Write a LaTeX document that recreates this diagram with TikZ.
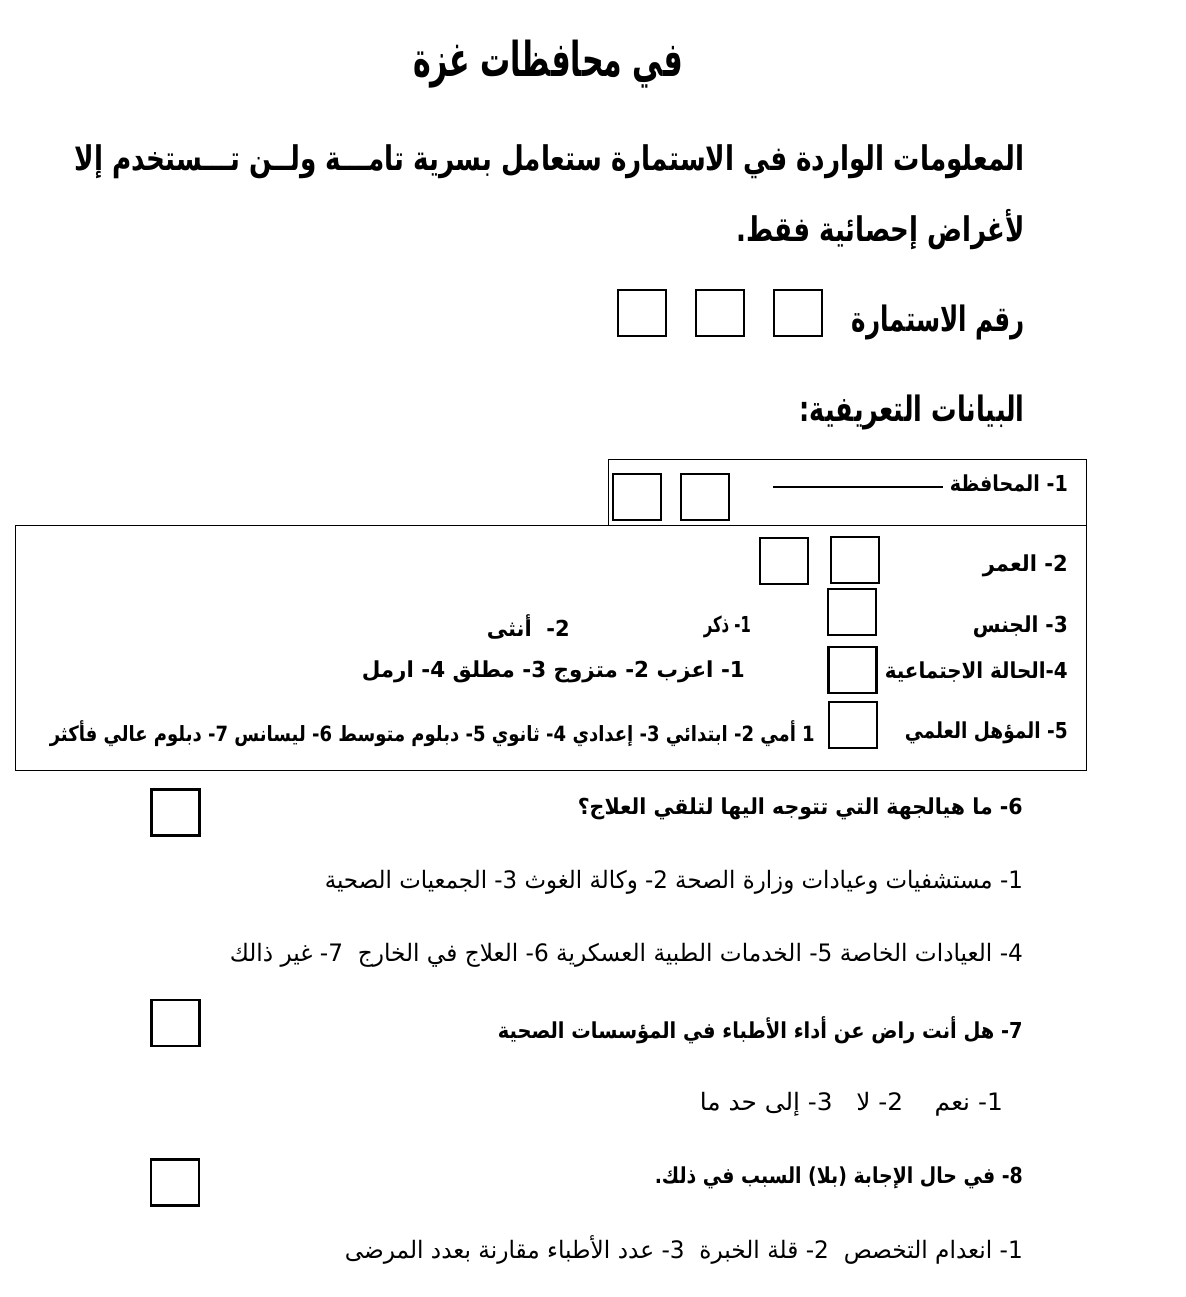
\documentclass[tikz,border=0pt]{standalone}
\usepackage{fontspec}
\usepackage{graphicx}
\TeXXeTstate=1
\newfontfamily\arb[Script=Arabic]{DejaVu Sans}
\newcommand\RT[2]{\resizebox{#1pt}{\height}{#2}}
\begin{document}
\begin{tikzpicture}[x=1pt,y=-1pt,
  txt/.style={inner sep=0pt, anchor=east},
  bf/.style={font=\arb\bfseries\fontsize{#1}{#1}\selectfont},
  rg/.style={font=\arb\fontsize{#1}{#1}\selectfont},
  ansbox/.style={draw, line width=2.8pt, minimum width=48pt, minimum height=46pt, inner sep=0pt},
  frame/.style={draw, line width=1pt}]
\useasboundingbox[fill=white] (0,0) rectangle (1185,1297);
% heading
\node[inner sep=0pt, bf=48] (title) at (548,64) {\RT{270}{\beginR في محافظات غزة\endR}};
\node[txt, bf=34] (stmt1) at (1025,162) {\RT{950}{\beginR المعلومات الواردة في الاستمارة ستعامل بسرية تامـــة ولــن تـــستخدم إلا\endR}};
\node[txt, bf=34] (stmt2) at (1025,230) {\RT{288}{\beginR لأغراض إحصائية فقط.\endR}};
\node[txt, bf=35] (formno) at (1025,322) {\RT{173}{\beginR رقم الاستمارة\endR}};
\node[ansbox] (fb3) at (798,313) {};
\node[ansbox] (fb2) at (720,313) {};
\node[ansbox] (fb1) at (642,313) {};
\node[txt, bf=35] (ident) at (1025,412) {\RT{225}{\beginR البيانات التعريفية:\endR}};
% frames
\draw[frame] (608,525) rectangle (1086,459);
\node[inner sep=0pt, minimum width=1071pt, minimum height=245pt, frame] (frame2) at (550.5,647.5) {};
% 1 province
\node[txt, bf=22] (q1) at (1068,483) {\RT{118}{\beginR 1- المحافظة\endR}};
\coordinate (lineR) at (943,487);
\coordinate (lineL) at (773,487);
\draw[line width=1.8pt] (lineL) -- (lineR);
\node[ansbox] (pb2) at (705,497) {};
\node[ansbox] (pb1) at (637,497) {};
% 2 age
\node[txt, bf=22] (q2) at (1068,566) {\RT{85}{\beginR 2- العمر\endR}};
\node[ansbox] (ab2) at (855,560) {};
\node[ansbox] (ab1) at (784,561) {};
% 3 sex
\node[txt, bf=22] (q3) at (1068,627) {\RT{95}{\beginR 3- الجنس\endR}};
\node[ansbox] (sb) at (852,612) {};
\node[txt, bf=22] (s1) at (751,627) {\RT{47}{\beginR 1- ذكر\endR}};
\node[txt, bf=22] (s2) at (570,627) {\RT{83}{\beginR 2-\ \ أنثى\endR}};
% 4 marital
\node[txt, bf=22] (q4) at (1068,672) {\RT{183}{\beginR 4-الحالة الاجتماعية\endR}};
\node[ansbox] (mb) at (852.5,670) {};
\node[txt, bf=22] (m1) at (745,672) {\RT{383}{\beginR 1- اعزب 2- متزوج 3- مطلق 4- ارمل\endR}};
% 5 education
\node[txt, bf=22] (q5) at (1068,733) {\RT{163}{\beginR 5- المؤهل العلمي\endR}};
\node[ansbox] (eb) at (853,725) {};
\node[txt, bf=21] (e1) at (815,734) {\RT{765}{\beginR 1 أمي 2- ابتدائي 3- إعدادي 4- ثانوي 5- دبلوم متوسط 6- ليسانس 7- دبلوم عالي فأكثر\endR}};
% 6
\node[txt, bf=22] (q6) at (1023,809) {\RT{445}{\beginR 6- ما هيالجهة التي تتوجه اليها لتلقي العلاج؟\endR}};
\node[ansbox] (b6) at (175.5,812.5) {};
\node[txt, rg=24] (o6a) at (1023,882) {\RT{698}{\beginR 1- مستشفيات وعيادات وزارة الصحة 2- وكالة الغوث 3- الجمعيات الصحية\endR}};
\node[txt, rg=24] (o6b) at (1023,955) {\RT{793}{\beginR 4- العيادات الخاصة 5- الخدمات الطبية العسكرية 6- العلاج في الخارج\ \ 7- غير ذالك\endR}};
% 7
\node[txt, bf=22] (q7) at (1023,1030) {\RT{525}{\beginR 7- هل أنت راض عن أداء الأطباء في المؤسسات الصحية\endR}};
\node[ansbox] (b7) at (175.5,1023) {};
\node[txt, rg=24] (o7) at (1003,1104) {\RT{303}{\beginR 1- نعم\ \ \ \ 2- لا\ \ \ 3- إلى حد ما\endR}};
% 8
\node[txt, bf=22] (q8) at (1023,1178) {\RT{368}{\beginR 8- في حال الإجابة (بلا) السبب في ذلك.\endR}};
\node[ansbox] (b8) at (175,1182.5) {};
\node[txt, rg=24] (o8) at (1023,1250) {\RT{678}{\beginR 1- انعدام التخصص\ \ 2- قلة الخبرة\ \ 3- عدد الأطباء مقارنة بعدد المرضى\endR}};
\end{tikzpicture}
\end{document}
